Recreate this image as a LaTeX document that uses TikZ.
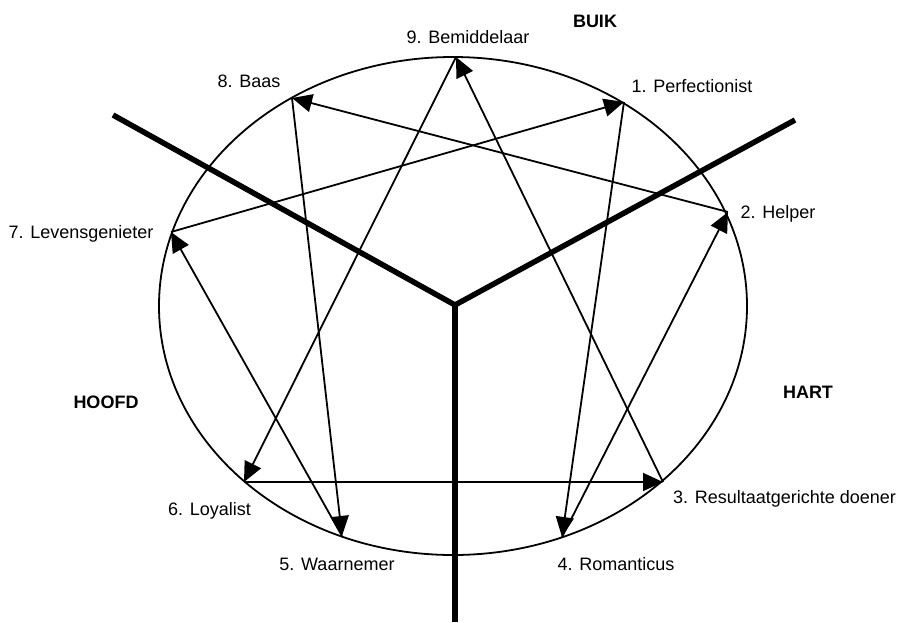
\documentclass[tikz,border=0pt]{standalone}
\usepackage{fontspec}
\setmainfont{Liberation Sans}
\usetikzlibrary{arrows.meta}
\tikzset{
    % text styles
    typelabel/.style={font=\fontsize{18}{20}\selectfont, inner sep=0pt, anchor=base},
    centrelabel/.style={font=\fontsize{18}{20}\selectfont\bfseries, inner sep=0pt, anchor=base},
    % line styles
    ring/.style={line width=1.8pt},
    arm/.style={line width=5.5pt},
    flow/.style={-{Triangle[length=20pt,width=18pt]}, line width=1.8pt}
}

\begin{document}
\begin{tikzpicture}[x=1pt,y=-1pt]
    \useasboundingbox (0,0) rectangle (898,622);

    % Outer ellipse
    \draw[ring] (453,306) ellipse [x radius=294, y radius=249];

    % Points on the ellipse
    \coordinate (p9) at (456,57);
    \coordinate (p8) at (292,98);
    \coordinate (p1) at (624,102);
    \coordinate (p2) at (728,212);
    \coordinate (p7) at (171,232);
    \coordinate (p6) at (244,482);
    \coordinate (p3) at (663,482);
    \coordinate (p5) at (342,536);
    \coordinate (p4) at (562,537);

    % Centres of intelligence
    \coordinate (hub) at (455,305);
    \coordinate (armL) at (113,115);
    \coordinate (armR) at (795,120);
    \coordinate (armB) at (455,622);
    \draw[arm] (armL) -- (hub) -- (armR);
    \draw[arm] (hub) -- (armB);

    % Hexad 1-4-2-8-5-7-1
    \draw[flow] (p1) -- (p4);
    \draw[flow] (p4) -- (p2);
    \draw[flow] (p2) -- (p8);
    \draw[flow] (p8) -- (p5);
    \draw[flow] (p5) -- (p7);
    \draw[flow] (p7) -- (p1);

    % Triangle 9-6-3-9
    \draw[flow] (p9) -- (p6);
    \draw[flow] (p6) -- (p3);
    \draw[flow] (p3) -- (p9);

    % Type labels
    \node[typelabel] (l9) at (468,43) {9. Bemiddelaar};
    \node[typelabel] (l8) at (249,87) {8. Baas};
    \node[typelabel] (l1) at (692,92) {1. Perfectionist};
    \node[typelabel] (l2) at (778,218) {2. Helper};
    \node[typelabel] (l7) at (81,238) {7. Levensgenieter};
    \node[typelabel, anchor=base east] (l6) at (251,515) {6. Loyalist};
    \node[typelabel, anchor=base west] (l3) at (673,503) {3. Resultaatgerichte doener};
    \node[typelabel] (l5) at (337,570) {5. Waarnemer};
    \node[typelabel] (l4) at (616,570) {4. Romanticus};

    % Centre labels
    \node[centrelabel] (buik) at (595,27) {BUIK};
    \node[centrelabel] (hoofd) at (106,408) {HOOFD};
    \node[centrelabel] (hart) at (808,398) {HART};
\end{tikzpicture}
\end{document}
